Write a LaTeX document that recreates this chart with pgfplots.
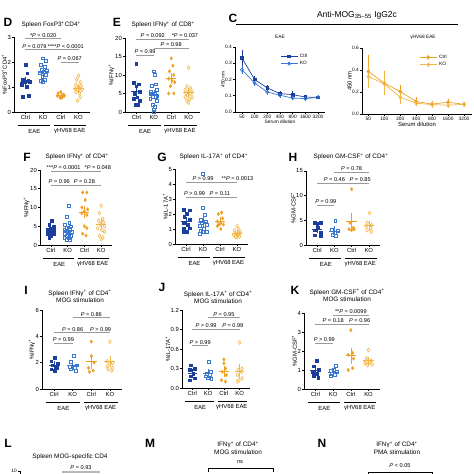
\documentclass[border=0pt]{standalone}
\usepackage{pgfplots}
\pgfplotsset{compat=1.18}
\usepackage{fontspec}
\setmainfont{Liberation Sans}
\definecolor{cb}{HTML}{1B3F9A}
\definecolor{lb}{HTML}{3A78D0}
\definecolor{co}{HTML}{F0A024}
\definecolor{lo}{HTML}{F2B544}
\definecolor{gl}{HTML}{9A9A9A}
\newcommand{\ft}{\fontsize{5.9}{6.5}\selectfont}
\newcommand{\fs}{\fontsize{4.8}{5}\selectfont}
\newcommand{\fp}{\fontsize{5.6}{6}\selectfont}
\newcommand{\fti}{\fontsize{6.4}{7.4}\selectfont}
\newcommand{\fl}{\fontsize{12}{13}\selectfont\bfseries}
\newcommand{\Pe}{\textit{P}}
\pgfplotsset{
  base/.style={scale only axis, anchor=south west, axis lines=left,
    axis line style={-, line width=0.55pt}, every tick/.style={black, line width=0.55pt},
    major tick length=2pt, tick align=outside, clip=false,
    ticklabel style={font=\ft, inner sep=1pt}, label style={font=\ft},
    /pgf/number format/assume math mode=true, ylabel style={yshift=-4pt}},
  dot/.style={base, xmin=0.35, xmax=4.65, xtick={1,2,3,4}, xticklabels={Ctrl,KO,Ctrl,KO}, ymin=0},
  ce/.style={only marks, mark=square*, color=cb, mark size=1.35pt},
  ke/.style={only marks, mark=square, color=lb, mark size=1.45pt, mark options={line width=0.55pt}},
  cg/.style={only marks, mark=diamond*, color=co, mark size=1.7pt},
  kg/.style={only marks, mark=diamond, color=lo, mark size=1.9pt, mark options={line width=0.55pt}},
}
\newcommand{\ms}[4]{%
 \addplot[#4, mark=none, forget plot, error bars/.cd, x dir=both, x fixed=0.3, error mark=none, error bar style={line width=0.7pt}] coordinates {(#1,#2)};
 \addplot[#4, mark=none, forget plot, error bars/.cd, y dir=both, y explicit, error mark=-, error mark options={mark size=2.2pt, line width=0.55pt}, error bar style={line width=0.55pt}] coordinates {(#1,#2) +- (0,#3)};}
\newcommand{\pv}[5][0pt]{\draw[gl, line width=0.6pt] (axis cs:#2,#4) -- (axis cs:#3,#4) node[midway, above, black, font=\fp, inner sep=0.8pt, xshift=#1] {#5};}
\newcommand{\grp}{%
 \draw[line width=0.45pt] ([yshift=-13.5pt]axis cs:0.55,0) -- ([yshift=-13.5pt]axis cs:2.4,0);
 \draw[line width=0.45pt] ([yshift=-13.5pt]axis cs:2.6,0) -- ([yshift=-13.5pt]axis cs:4.45,0);
 \node[font=\ft] at ([yshift=-19pt]axis cs:1.5,0) {EAE};
 \node[font=\ft] at ([yshift=-19pt]axis cs:3.5,0) {γHV68 EAE};}
\begin{document}
\begin{tikzpicture}
\path[use as bounding box] (0pt,0pt) rectangle (474pt,474pt);
\clip (0pt,0pt) rectangle (474pt,474pt);

% ---------------- D
\begin{axis}[dot, at={(14pt,362pt)}, width=76pt, height=75pt, ymax=3, ytick={0,1,2,3},
  ylabel={\%FoxP3\textsuperscript{+}CD4\textsuperscript{+}}]
\addplot[ce] coordinates {(1.0,1.9)(1.1,1.55)(0.85,1.3)(1.15,1.25)(0.95,1.2)(1.25,1.2)(0.8,1.1)(1.05,1.0)(1.2,0.65)(0.85,0.6)};
\addplot[ke] coordinates {(2.0,2.15)(2.15,2.05)(1.85,1.9)(2.1,1.8)(1.9,1.7)(2.2,1.65)(2.05,1.6)(1.8,1.55)(2.15,1.5)(1.95,1.4)(2.1,1.3)(1.85,1.25)(2.0,1.2)};
\addplot[cg] coordinates {(3.0,0.8)(2.85,0.75)(3.15,0.7)(2.8,0.65)(3.2,0.65)(2.95,0.6)(3.1,0.6)(3.0,0.55)};
\addplot[kg] coordinates {(4.0,1.45)(3.9,1.3)(4.1,1.2)(3.85,1.1)(4.15,1.05)(4.0,1.0)(3.8,0.95)(4.2,0.9)(3.95,0.9)(4.1,0.85)(3.85,0.8)(4.05,0.75)(4.1,0.6)(3.95,0.45)};
\ms{1}{1.2}{0.13}{cb}\ms{2}{1.62}{0.08}{lb}\ms{3}{0.66}{0.03}{co}\ms{4}{0.95}{0.07}{lo}
\pv{1}{3}{2.95}{*\Pe{} = 0.020}
\pv{1}{2}{2.5}{\Pe{} = 0.079}
\pv[5pt]{2}{4}{2.5}{****\Pe{} < 0.0001}
\pv{3}{4}{2.0}{\Pe{} = 0.067}
\grp
\end{axis}

% ---------------- E
\begin{axis}[dot, at={(125pt,362pt)}, width=75pt, height=74pt, ymax=20, ytick={0,5,10,15,20},
  ylabel={\%IFNγ\textsuperscript{+}}]
\addplot[ce] coordinates {(1.0,13)(0.85,8)(1.15,7.5)(1.0,7)(1.2,5.5)(0.9,5)(1.05,4)(0.85,3.5)(1.2,3)(0.95,2)(1.1,2)};
\addplot[ke] coordinates {(2.0,11)(2.05,10)(2.1,7.5)(1.9,7)(2.15,6)(1.85,5.5)(2.05,5)(1.8,5)(2.2,4.5)(1.95,4)(2.1,4)(1.8,3.5)(2.15,3)(1.95,2)(2.05,1.5)(2.0,0.5)(2.0,0)};
\addplot[cg] coordinates {(3.0,14.5)(3.1,12.5)(2.9,11)(3.15,10)(2.85,9)(3.05,8.5)(3.2,8)(2.95,7)(2.85,5)(3.15,5)};
\addplot[kg] coordinates {(4.0,12)(3.9,7)(4.1,6.5)(3.8,6)(4.0,5.5)(4.2,5.5)(3.85,5)(4.1,5)(3.95,4.5)(4.2,4)(3.8,4)(4.05,3.5)(3.9,3)(4.0,2.5)};
\ms{1}{5.5}{1.0}{cb}\ms{2}{4.7}{0.7}{lb}\ms{3}{9.05}{1.0}{co}\ms{4}{5.3}{0.6}{lo}
\pv[-1pt]{1}{3}{19.7}{\Pe{} = 0.092}
\pv[5pt]{3}{4}{19.7}{*\Pe{} = 0.037}
\pv{2}{4}{17.3}{\Pe{} = 0.98}
\pv{1}{2}{15.4}{\Pe{} = 0.99}
\grp
\end{axis}

% ---------------- C left
\begin{axis}[base, at={(235pt,362pt)}, width=90pt, height=65pt, xmin=0.45, xmax=7.55, ymin=0, ymax=0.4,
  xtick={1,2,3,4,5,6,7}, xticklabels={50,100,200,400,800,1600,3200}, ytick={0,0.1,0.2,0.3,0.4},
  yticklabel style={/pgf/number format/fixed, /pgf/number format/fixed zerofill, /pgf/number format/precision=1},
  ticklabel style={font=\fs}, label style={font=\fs}, xlabel={Serum dilution}, ylabel={450 nm},
  xlabel style={yshift=3pt},
  legend style={at={(0.5,0.93)}, anchor=north west, draw=none, fill=none, font=\fs, row sep=-1.5pt, inner sep=0pt},
  legend cell align=left]
\addplot[cb, mark=square*, mark size=1.3pt, line width=0.7pt, error bars/.cd, y dir=both, y explicit, error mark options={mark size=1.5pt}] coordinates {(1,0.332) +- (0,0.04) (2,0.20) +- (0,0.015) (3,0.148) +- (0,0.01) (4,0.113) +- (0,0.006) (5,0.107) +- (0,0.01) (6,0.092) +- (0,0.005) (7,0.09) +- (0,0.003)};
\addlegendentry{Ctrl}
\addplot[lb, mark=o, mark size=1.6pt, mark options={fill=white}, line width=0.7pt, error bars/.cd, y dir=both, y explicit, error mark options={mark size=1.5pt}] coordinates {(1,0.26) +- (0,0.015) (2,0.178) +- (0,0.01) (3,0.123) +- (0,0.008) (4,0.103) +- (0,0.005) (5,0.086) +- (0,0.005) (6,0.082) +- (0,0.004) (7,0.09) +- (0,0.003)};
\addlegendentry{KO}
\end{axis}

% ---------------- C right
\begin{axis}[base, at={(362pt,360pt)}, width=110pt, height=66pt, xmin=0.6, xmax=7.5, ymin=0, ymax=0.6,
  xtick={1,2,3,4,5,6,7}, xticklabels={50,100,200,400,800,1600,3200}, ytick={0,0.2,0.4,0.6},
  yticklabel style={/pgf/number format/fixed, /pgf/number format/fixed zerofill, /pgf/number format/precision=1},
  ticklabel style={font=\fs}, label style={font=\ft}, xlabel={Serum dilution}, ylabel={450 nm},
  xlabel style={yshift=3pt},
  legend style={at={(0.52,0.93)}, anchor=north west, draw=none, fill=none, font=\fs, row sep=-1.5pt, inner sep=0pt},
  legend cell align=left]
\addplot[co, mark=diamond*, mark size=1.8pt, line width=0.7pt, error bars/.cd, y dir=both, y explicit, error mark options={mark size=2pt}] coordinates {(1,0.387) +- (0,0.13) (2,0.28) +- (0,0.09) (3,0.204) +- (0,0.04) (4,0.113) +- (0,0.02) (5,0.09) +- (0,0.01) (6,0.107) +- (0,0.01) (7,0.088) +- (0,0.005)};
\addlegendentry{Ctrl}
\addplot[lo, mark=diamond, mark size=1.9pt, mark options={fill=white}, line width=0.7pt, error bars/.cd, y dir=both, y explicit, error mark options={mark size=2pt}] coordinates {(1,0.34) +- (0,0.09) (2,0.274) +- (0,0.08) (3,0.152) +- (0,0.04) (4,0.098) +- (0,0.01) (5,0.085) +- (0,0.01) (6,0.08) +- (0,0.01) (7,0.088) +- (0,0.005)};
\addlegendentry{KO}
\end{axis}

% ---------------- F
\begin{axis}[dot, at={(40pt,229pt)}, width=72pt, height=75pt, ymax=20, ytick={0,5,10,15,20},
  ylabel={\%IFNγ\textsuperscript{+}}]
\addplot[ce] coordinates {(1.05,6.5)(0.9,5.5)(1.15,5)(1.0,4.5)(0.8,4)(1.2,4)(0.9,3.5)(1.1,3.5)(0.8,3)(1.2,3)(1.0,2.5)(0.9,2)};
\addplot[ke] coordinates {(2.05,10.5)(1.95,7.5)(2.1,6)(1.85,5.5)(2.2,5)(1.95,4.5)(1.8,4)(2.15,4)(2.0,3.5)(2.25,3.5)(1.85,3)(2.1,3)(1.95,2.5)(2.2,2.5)(1.8,2)(2.05,2)(1.95,1.5)(2.15,1.5)};
\addplot[cg] coordinates {(2.9,14)(3.15,14)(3.05,12)(2.85,10)(3.2,9.5)(3.0,9)(2.85,8.5)(3.15,8)(3.0,5)(3.15,4.5)(2.9,3)(3.1,2.5)};
\addplot[kg] coordinates {(4.0,10.5)(3.9,8.5)(4.1,7)(3.85,6.5)(4.15,6)(3.95,5.5)(4.2,5)(3.8,4.5)(4.05,4)(4.2,3.5)(3.9,2.5)(4.1,2)(4.0,1.5)};
\ms{1}{3.9}{0.4}{cb}\ms{2}{4.0}{0.5}{lb}\ms{3}{8.8}{1.1}{co}\ms{4}{5.6}{0.7}{lo}
\pv[-4pt]{1}{3}{19.7}{***\Pe{} = 0.0001}
\pv[5pt]{3}{4}{19.7}{*\Pe{} = 0.048}
\pv{1}{2}{16}{\Pe{} = 0.96}
\pv{2}{4}{16}{\Pe{} = 0.28}
\grp
\end{axis}

% ---------------- G
\begin{axis}[dot, at={(175pt,230pt)}, width=73pt, height=75pt, ymax=5, ytick={0,1,2,3,4,5},
  ylabel={\%IL-17A\textsuperscript{+}}]
\addplot[ce] coordinates {(0.85,2.3)(1.2,2.25)(1.05,2.0)(0.9,1.8)(1.2,1.6)(0.85,1.4)(1.1,1.3)(1.2,1.05)(0.85,1.0)(1.05,0.8)(0.85,0.8)};
\addplot[ke] coordinates {(2.0,4.7)(2.0,2.4)(2.1,1.95)(1.85,1.6)(2.15,1.5)(1.95,1.4)(2.2,1.3)(1.8,1.2)(2.05,1.0)(1.85,0.9)(2.2,0.8)(2.0,0.8)(1.8,0.7)};
\addplot[cg] coordinates {(3.1,2.1)(2.9,2.0)(3.15,1.7)(2.85,1.5)(3.05,1.4)(3.2,1.3)(2.95,1.3)(2.85,1.2)(3.05,1.0)};
\addplot[kg] coordinates {(4.0,1.2)(4.1,1.0)(3.85,0.9)(4.2,0.8)(3.95,0.7)(4.15,0.7)(3.8,0.6)(4.05,0.6)(3.9,0.5)(4.15,0.5)(4.0,0.45)};
\ms{1}{1.49}{0.15}{cb}\ms{2}{1.45}{0.25}{lb}\ms{3}{1.5}{0.12}{co}\ms{4}{0.73}{0.07}{lo}
\pv{1}{3}{4.13}{\Pe{} > 0.99}
\pv[9pt]{3}{4}{4.13}{**\Pe{} = 0.0013}
\pv{1}{2}{3.13}{\Pe{} > 0.99}
\pv{2}{4}{3.13}{\Pe{} = 0.11}
\grp
\end{axis}

% ---------------- H
\begin{axis}[dot, at={(306pt,229pt)}, width=74pt, height=74pt, ymax=15, ytick={0,5,10,15},
  ylabel={\%GM-CSF\textsuperscript{+}}]
\addplot[ce] coordinates {(0.85,4.5)(1.2,4.5)(1.0,4.3)(1.05,3.5)(0.85,3.0)(1.2,2.5)(0.85,2.0)(1.2,1.8)};
\addplot[ke] coordinates {(2.05,5.0)(1.85,3.0)(2.2,2.8)(2.0,2.5)(1.9,2.0)(2.1,1.8)};
\addplot[cg] coordinates {(3.0,11.3)(2.9,4.5)(3.1,3.5)(2.85,3.2)(3.15,3.2)(3.0,3.0)};
\addplot[kg] coordinates {(4.05,6.5)(3.9,4.5)(4.15,4.0)(3.85,3.8)(4.1,3.5)(3.9,3.0)(4.15,2.7)};
\ms{1}{3.26}{0.38}{cb}\ms{2}{2.85}{0.47}{lb}\ms{3}{4.8}{1.3}{co}\ms{4}{4.0}{0.48}{lo}
\pv{2}{4}{14.8}{\Pe{} = 0.78}
\pv{1}{3}{12.6}{\Pe{} = 0.46}
\pv{3}{4}{12.6}{\Pe{} = 0.85}
\pv{1}{2}{8.1}{\Pe{} = 0.99}
\grp
\end{axis}

% ---------------- I
\begin{axis}[dot, at={(42pt,85pt)}, width=80pt, height=79pt, ymax=6, ytick={0,2,4,6},
  ylabel={\%IFNγ\textsuperscript{+}}]
\addplot[ce] coordinates {(1.05,2.4)(0.85,2.1)(1.2,1.9)(0.9,1.8)(1.15,1.6)(0.85,1.5)(1.05,1.4)};
\addplot[ke] coordinates {(2.05,2.5)(1.9,2.1)(2.2,1.8)(1.85,1.7)(2.1,1.6)(1.9,1.5)(2.15,1.4)};
\addplot[cg] coordinates {(3.0,3.6)(3.0,2.5)(3.15,2.0)(2.85,1.6)(3.1,1.4)(2.9,1.3)};
\addplot[kg] coordinates {(4.0,3.6)(3.85,2.1)(4.15,2.0)(4.0,1.9)(3.85,1.7)(4.15,1.6)(3.9,1.5)(4.1,1.4)};
\ms{1}{1.81}{0.13}{cb}\ms{2}{1.8}{0.14}{lb}\ms{3}{2.07}{0.35}{co}\ms{4}{2.1}{0.25}{lo}
\pv{2}{4}{5.45}{\Pe{} = 0.86}
\pv{1}{3}{4.3}{\Pe{} = 0.86}
\pv{3}{4}{4.3}{\Pe{} > 0.99}
\pv{1}{2}{3.5}{\Pe{} = 0.99}
\grp
\end{axis}

% ---------------- J
\begin{axis}[dot, at={(182pt,86pt)}, width=68pt, height=78pt, ymax=1.2, ytick={0,0.3,0.6,0.9,1.2},
  yticklabel style={/pgf/number format/fixed, /pgf/number format/fixed zerofill, /pgf/number format/precision=1},
  ylabel={\%IL-17A\textsuperscript{+}}]
\addplot[ce] coordinates {(0.9,0.35)(1.15,0.30)(0.85,0.28)(1.05,0.22)(0.9,0.18)(1.15,0.15)(0.85,0.12)};
\addplot[ke] coordinates {(2.05,0.40)(2.15,0.25)(1.9,0.22)(2.1,0.2)(1.85,0.18)(2.0,0.15)(2.2,0.14)};
\addplot[cg] coordinates {(3.0,0.44)(3.0,0.38)(3.1,0.3)(2.9,0.25)(3.15,0.2)(2.85,0.12)(3.1,0.1)};
\addplot[kg] coordinates {(4.0,0.7)(4.15,0.3)(3.9,0.28)(4.1,0.25)(3.85,0.2)(4.15,0.15)(3.95,0.12)(3.85,0.1)};
\ms{1}{0.23}{0.03}{cb}\ms{2}{0.22}{0.035}{lb}\ms{3}{0.256}{0.05}{co}\ms{4}{0.26}{0.07}{lo}
\pv{2}{4}{1.08}{\Pe{} = 0.95}
\pv[-2pt]{1}{3}{0.91}{\Pe{} > 0.99}
\pv[1pt]{3}{4}{0.91}{\Pe{} = 0.99}
\pv{1}{2}{0.65}{\Pe{} > 0.99}
\grp
\end{axis}

% ---------------- K
\begin{axis}[dot, at={(304pt,85pt)}, width=76pt, height=76pt, ymax=4, ytick={0,1,2,3,4},
  ylabel={\%GM-CSF\textsuperscript{+}}]
\addplot[ce] coordinates {(1.05,1.5)(0.9,1.2)(1.2,1.0)(0.85,0.9)(1.1,0.8)(0.9,0.7)(1.15,0.6)};
\addplot[ke] coordinates {(2.15,1.2)(2.05,1.0)(1.85,0.95)(2.2,0.9)(1.9,0.8)(2.1,0.75)(1.85,0.7)};
\addplot[cg] coordinates {(3.0,3.1)(3.1,1.9)(2.85,1.8)(3.15,1.6)(3.1,1.1)(2.85,1.0)};
\addplot[kg] coordinates {(4.0,2.05)(3.9,1.6)(4.15,1.5)(3.85,1.45)(4.05,1.4)(3.8,1.35)(4.2,1.3)(3.95,1.25)};
\ms{1}{0.96}{0.12}{cb}\ms{2}{0.9}{0.065}{lb}\ms{3}{1.75}{0.31}{co}\ms{4}{1.49}{0.09}{lo}
\pv{2}{4}{3.9}{**\Pe{} = 0.0099}
\pv{1}{3}{3.42}{\Pe{} = 0.18}
\pv{3}{4}{3.42}{\Pe{} = 0.96}
\pv{1}{2}{2.42}{\Pe{} > 0.99}
\grp
\end{axis}

% ---------------- L (top only visible)
\begin{axis}[base, at={(20pt,-67pt)}, width=100pt, height=70pt, xmin=0, xmax=1, ymin=0, ymax=10,
  ytick={0,5,10}, xtick=\empty, ticklabel style={font=\fs}]
\draw[gl!70, line width=1.6pt] (axis cs:0.42,9.86) -- (axis cs:0.8,9.86) node[midway, above=0.5pt, black, font=\fp, inner sep=0.8pt] {\Pe{} = 0.93};
\end{axis}

% ---------------- titles and letters
\node[font=\fl] at (8pt,452pt) {D};
\node[font=\fl] at (117pt,452pt) {E};
\node[font=\fl] at (233pt,456pt) {C};
\node[font=\fl] at (27pt,317pt) {F};
\node[font=\fl] at (162pt,317pt) {G};
\node[font=\fl] at (293pt,317pt) {H};
\node[font=\fl] at (26pt,184pt) {I};
\node[font=\fl] at (162pt,187pt) {J};
\node[font=\fl] at (295pt,184pt) {K};
\node[font=\fl] at (8pt,31pt) {L};
\node[font=\fl] at (150pt,31pt) {M};
\node[font=\fl] at (322pt,31pt) {N};

\node[font=\fti, anchor=west] at (18pt,449pt) {Spleen FoxP3\textsuperscript{+}CD4\textsuperscript{+}};
\node[font=\fti, anchor=west] at (128pt,449pt) {Spleen IFNγ\textsuperscript{+} of CD8\textsuperscript{+}};
\node[font=\fontsize{8.5}{9}\selectfont] at (357pt,459pt) {Anti-MOG\textsubscript{35–55} IgG2c};
\draw[line width=0.6pt] (236pt,450pt) -- (458pt,450pt);
\node[font=\fs] at (280pt,437pt) {EAE};
\node[font=\fs] at (423pt,437pt) {γHV68 EAE};
\node[font=\fti, anchor=west] at (42pt,317pt) {Spleen IFNγ\textsuperscript{+} of CD4\textsuperscript{+}};
\node[font=\fti, anchor=west] at (176pt,317pt) {Spleen IL-17A\textsuperscript{+} of CD4\textsuperscript{+}};
\node[font=\fti, anchor=west] at (310pt,317pt) {Spleen GM-CSF\textsuperscript{+} of CD4\textsuperscript{+}};
\node[font=\fti, align=center] at (80pt,177.5pt) {Spleen IFNγ\textsuperscript{+} of CD4\textsuperscript{+}\\MOG stimulation};
\node[font=\fti, align=center] at (218pt,176.5pt) {Spleen IL-17A\textsuperscript{+} of CD4\textsuperscript{+}\\MOG stimulation};
\node[font=\fti, align=center] at (347pt,178.5pt) {Spleen GM-CSF\textsuperscript{+} of CD4\textsuperscript{+}\\MOG stimulation};
\node[font=\fti] at (70pt,17pt) {Spleen MOG-specific CD4};
\node[font=\fti, align=center] at (238pt,26pt) {IFNγ\textsuperscript{+} of CD4\textsuperscript{+}\\MOG stimulation};
\node[font=\fp] at (240pt,12pt) {ns};
\draw[line width=0.5pt] (208pt,2pt) -- (208pt,6pt) -- (273pt,6pt) -- (273pt,2pt);
\node[font=\fti, align=center] at (397pt,26pt) {IFNγ\textsuperscript{+} of CD4\textsuperscript{+}\\PMA stimulation};
\node[font=\fp] at (400pt,8pt) {\Pe{} < 0.05};
\draw[line width=0.5pt] (368pt,-2pt) -- (368pt,2pt) -- (432pt,2pt) -- (432pt,-2pt);
\end{tikzpicture}
\end{document}
